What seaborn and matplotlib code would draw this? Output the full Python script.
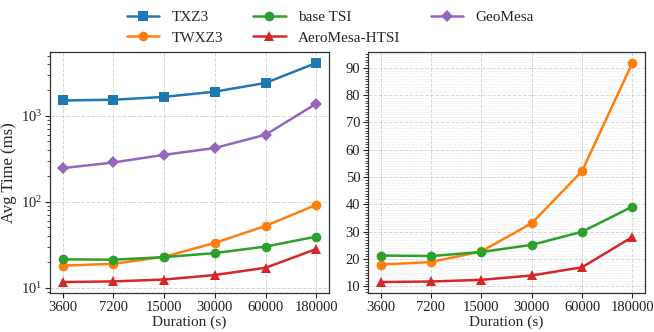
import matplotlib.pyplot as plt
import matplotlib.ticker as mticker
import numpy as np
import pandas as pd
import seaborn as sns

sns.set_style("ticks")
plt.rcParams["font.family"] = ["Liberation Serif", "DejaVu Serif"]
plt.rcParams["mathtext.fontset"] = "stix"

durations = ["3600", "7200", "15000", "30000", "60000", "180000"]
txz3 = [1500, 1530, 1650, 1900, 2400, 4100]
twxz3 = [18.0, 18.9, 22.8, 33.1, 52.2, 91.8]
base_tsi = [21.3, 21.1, 22.6, 25.2, 30.0, 39.2]
aeromesa = [11.6, 11.8, 12.4, 14.0, 17.0, 28.1]
geomesa = [245, 285, 350, 420, 600, 1380]

series = [
    ("TXZ3", txz3, "#1f77b4", "s"),
    ("TWXZ3", twxz3, "#ff7f0e", "o"),
    ("base TSI", base_tsi, "#2ca02c", "o"),
    ("AeroMesa-HTSI", aeromesa, "#d62728", "^"),
    ("GeoMesa", geomesa, "#9467bd", "D"),
]
right_names = ["TWXZ3", "base TSI", "AeroMesa-HTSI"]

pos = np.arange(len(durations))

fig = plt.figure(figsize=(6.54, 3.32), dpi=100)
ax1 = fig.add_axes([0.0765, 0.1175, 0.4266, 0.726])
ax2 = fig.add_axes([0.5627, 0.1175, 0.4235, 0.726])

for name, vals, color, mk in series:
    df = pd.DataFrame({"x": pos, "y": vals})
    ms = 6 if mk == "D" else 7
    sns.lineplot(data=df, x="x", y="y", ax=ax1, color=color, marker=mk,
                 markersize=ms, linewidth=1.8, markeredgewidth=0,
                 label=name, legend=False)
    if name in right_names:
        sns.lineplot(data=df, x="x", y="y", ax=ax2, color=color, marker=mk,
                     markersize=ms, linewidth=1.8, markeredgewidth=0,
                     legend=False)

ax1.set_yscale("log")
for ax in (ax1, ax2):
    ax.set_xticks(pos)
    ax.set_xticklabels(durations)
    ax.set_xlabel("Duration (s)", fontsize=11, labelpad=1)
    ax.tick_params(labelsize=10.5, colors="#222222", pad=2)
    ax.grid(True, which="major", linestyle="--", color="#cccccc", linewidth=0.7, alpha=0.8)
    for sp in ax.spines.values():
        sp.set_color("#333333")
        sp.set_linewidth(0.9)

ax1.set_ylabel("Avg Time (ms)", fontsize=12, labelpad=3)
ax2.set_ylabel("")
ax2.yaxis.set_major_locator(mticker.MultipleLocator(10))
ax2.yaxis.set_minor_locator(mticker.MultipleLocator(1))
ax2.tick_params(axis="y", which="minor", length=2.5, width=0.6)
ax2.grid(True, which="minor", axis="y", linestyle=":", color="#dddddd", linewidth=0.5)
ax2.grid(True, which="minor", axis="x", linestyle=":", color="#dddddd", linewidth=0.5)

handles, labels = ax1.get_legend_handles_labels()
fig.legend(handles, labels, loc="upper center", bbox_to_anchor=(0.505, 1.01), ncol=3,
           frameon=False, fontsize=11, columnspacing=2.0, handlelength=2.1,
           handletextpad=0.8, labelspacing=0.45)

fig.savefig("out.png", dpi=100)
